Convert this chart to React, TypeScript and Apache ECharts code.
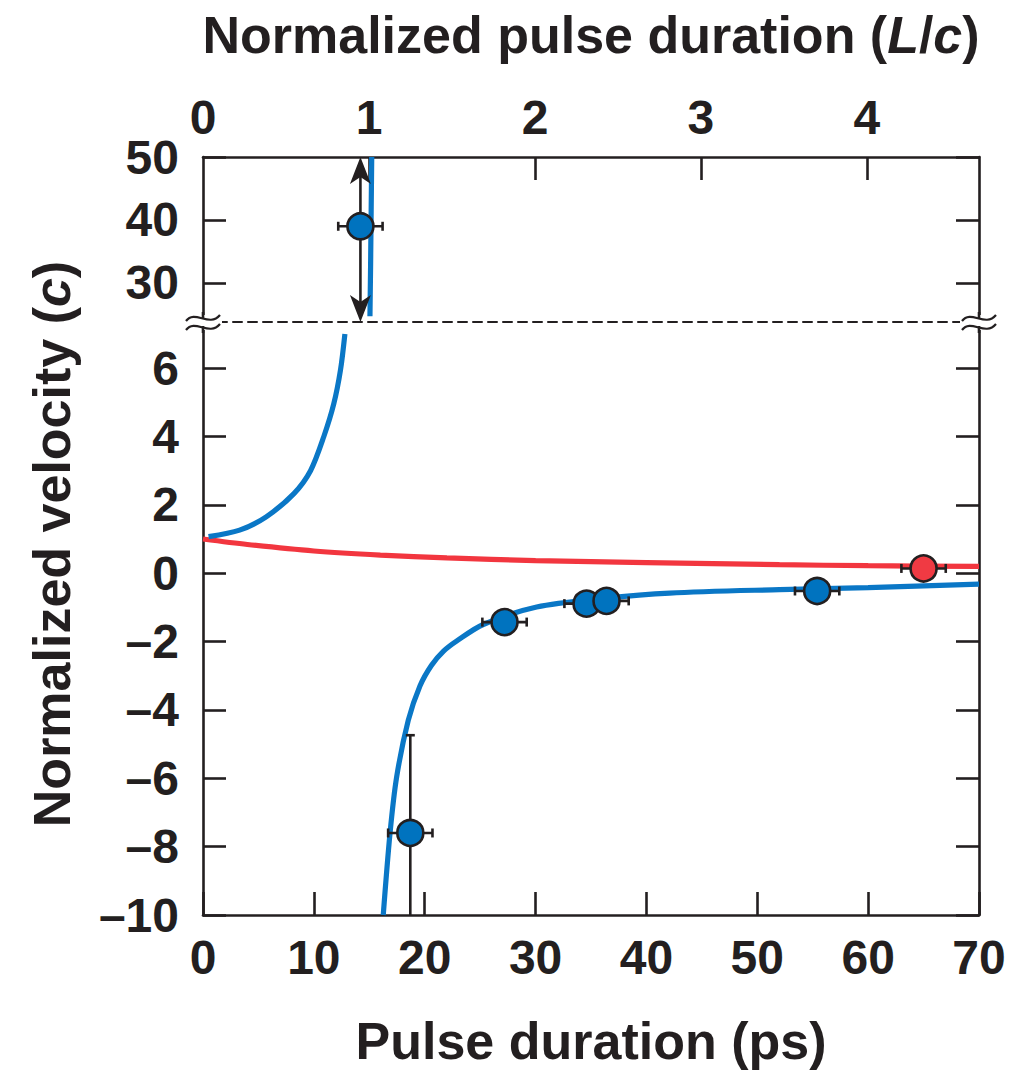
import React, { useEffect, useRef } from "react";
import * as echarts from "echarts";

// ---------- data ----------
const psTicks = [0, 10, 20, 30, 40, 50, 60, 70];
const lcTickLabels = [0, 1, 2, 3, 4];
const lcTickMarks = [1, 2, 3, 4];
const upperYTicks = [30, 40, 50];
const lowerYTicks = [-10, -8, -6, -4, -2, 0, 2, 4, 6];

// blue theory curve, branch below the pole (positive, lower panel)
const blueA_x = [0.5, 3.3, 5.7, 8.2, 9.7, 10.9, 11.8, 12.4, 12.8];
const blueA_y = [1.07, 1.26, 1.65, 2.33, 3.0, 4.0, 4.96, 5.94, 7.0];
// blue theory curve, near the pole (upper panel)
const blueB_x = [15.06, 15.12, 15.17, 15.22];
const blueB_y = [24.7, 33, 41.5, 50];
// blue theory curve, negative branch (lower panel)
const blueC_x = [16.26, 16.87, 17.47, 18.52, 19.57, 20.6, 21.7, 22.9, 25.28, 30.1, 36.1, 42.1, 52.0, 60.0, 70.0];
const blueC_y = [-10.0, -7.61, -5.96, -4.3, -3.3, -2.7, -2.28, -1.98, -1.5, -0.99, -0.74, -0.58, -0.48, -0.42, -0.32];
// red theory curve
const red_x = [0, 4, 10, 16, 22, 30, 40, 52, 60, 70];
const red_y = [1.0, 0.84, 0.65, 0.53, 0.45, 0.37, 0.31, 0.25, 0.22, 0.2];

// measured points (upper panel)
const upPt_x = [14.2];
const upPt_y = [39.0];
const upPt_xErr = [2.0];
const upPt_yLow = [23.8];
const upPt_yHigh = [50];
const upPt_arrow = [1];
// measured points (lower panel, blue)
const bluePt_x = [18.7, 27.2, 34.6, 36.4, 55.4];
const bluePt_y = [-7.6, -1.43, -0.89, -0.81, -0.52];
const bluePt_xErr = [2.0, 2.0, 2.0, 2.0, 2.0];
const bluePt_yLow = [-10.5, -1.43, -0.89, -0.81, -0.52];
const bluePt_yHigh = [-4.74, -1.43, -0.89, -0.81, -0.52];
// measured point (red)
const redPt_x = [65.0];
const redPt_y = [0.14];
const redPt_xErr = [2.0];

// ---------- styles ----------
const BLACK = "#231f20";
const BLUE_LINE = "#0a77c6";
const BLUE_FILL = "#0073bf";
const RED_LINE = "#f2363f";
const RED_FILL = "#f03a43";
const FONT = "Liberation Sans";

const GL = 203;
const GR = 979;
const GT = 157;
const GB = 322;
const GBOT = 915;

const zip = (xs: number[], ys: number[]) => xs.map((x, i) => [x, ys[i]]);

function errRender(params: any, api: any) {
  const x = api.value(0);
  const y = api.value(1);
  const xe = api.value(2);
  const yl = api.value(3);
  const yh = api.value(4);
  const arrow = api.value(5);
  const cs = params.coordSys;
  const st = { stroke: BLACK, lineWidth: 2.6 };
  const inside = (p: number[]) => p[1] >= cs.y - 0.5 && p[1] <= cs.y + cs.height + 0.5;
  const l = api.coord([x - xe, y]);
  const r = api.coord([x + xe, y]);
  const ch: any[] = [
    { type: "line", shape: { x1: l[0], y1: l[1], x2: r[0], y2: r[1] }, style: st },
    { type: "line", shape: { x1: l[0], y1: l[1] - 4.5, x2: l[0], y2: l[1] + 4.5 }, style: st },
    { type: "line", shape: { x1: r[0], y1: r[1] - 4.5, x2: r[0], y2: r[1] + 4.5 }, style: st },
  ];
  if (yl !== yh) {
    const lo = api.coord([x, yl]);
    const hi = api.coord([x, yh]);
    if (arrow) {
      ch.push({ type: "line", shape: { x1: hi[0], y1: hi[1] + 18, x2: lo[0], y2: lo[1] - 18 }, style: st });
      ch.push({
        type: "polygon",
        shape: { points: [[hi[0], hi[1]], [hi[0] - 10.5, hi[1] + 27], [hi[0], hi[1] + 20], [hi[0] + 10.5, hi[1] + 27]] },
        style: { fill: BLACK },
      });
      ch.push({
        type: "polygon",
        shape: { points: [[lo[0], lo[1]], [lo[0] - 10.5, lo[1] - 27], [lo[0], lo[1] - 20], [lo[0] + 10.5, lo[1] - 27]] },
        style: { fill: BLACK },
      });
    } else {
      ch.push({ type: "line", shape: { x1: lo[0], y1: lo[1], x2: hi[0], y2: hi[1] }, style: st });
      if (inside(hi)) ch.push({ type: "line", shape: { x1: hi[0] - 4.5, y1: hi[1], x2: hi[0] + 4.5, y2: hi[1] }, style: st });
      if (inside(lo)) ch.push({ type: "line", shape: { x1: lo[0] - 4.5, y1: lo[1], x2: lo[0] + 4.5, y2: lo[1] }, style: st });
    }
  }
  return { type: "group", children: ch };
}

const fmt = (v: number) => (v < 0 ? "\u2013" + Math.abs(v) : String(v));

const labelStyle = { fontFamily: FONT, fontWeight: "bold" as const, fontSize: 48, color: BLACK };
const lineStyle = { color: BLACK, width: 2.6 };
const tickStyle = { show: true, inside: true, length: 23, lineStyle: { color: BLACK, width: 2.6 } };

function wave(cx: number, cy: number) {
  return {
    type: "bezierCurve",
    z: 101,
    shape: { x1: cx - 17, y1: cy + 3, cpx1: cx - 8, cpy1: cy - 9, cpx2: cx + 6, cpy2: cy + 10, x2: cx + 17, y2: cy - 3 },
    style: { stroke: BLACK, lineWidth: 2.2, fill: null },
  };
}

const curveStyle = (color: string) => ({ color, width: 5.2, cap: "butt" });

export default function App() {
  const ref = useRef<HTMLDivElement>(null);
  useEffect(() => {
    if (!ref.current) return;
    const chart = echarts.init(ref.current, null, { renderer: "svg" });
    const option: any = {
      animation: false,
      backgroundColor: "#ffffff",
      textStyle: { fontFamily: FONT },
      grid: [
        { left: GL, right: 1014 - GR, top: GT, height: GB - GT },
        { left: GL, right: 1014 - GR, top: GB, height: GBOT - GB },
      ],
      xAxis: [
        {
          gridIndex: 0, type: "value", position: "bottom", min: 0, max: 70,
          axisLine: { show: true, lineStyle: { color: BLACK, width: 2, type: [9, 6] } },
          axisTick: { show: false }, axisLabel: { show: false }, splitLine: { show: false },
        },
        {
          gridIndex: 1, type: "value", position: "bottom", min: 0, max: 70, interval: 10,
          axisLine: { show: true, onZero: false, lineStyle },
          axisTick: tickStyle,
          axisLabel: { ...labelStyle, margin: 18, customValues: psTicks },
          splitLine: { show: false },
          name: "Pulse duration (ps)", nameLocation: "middle", nameGap: 100,
          nameTextStyle: { fontFamily: FONT, fontWeight: "bold", fontSize: 52, color: BLACK },
        },
        {
          gridIndex: 0, type: "value", position: "top", min: 0, max: 4.675,
          axisLine: { show: true, onZero: false, lineStyle },
          axisTick: { ...tickStyle, customValues: lcTickMarks },
          axisLabel: { ...labelStyle, margin: 16, customValues: lcTickLabels },
          splitLine: { show: false },
          name: "{a|Normalized pulse duration (}{b|L}{a|/}{b|c}{a|)}",
          nameLocation: "middle", nameGap: 96,
          nameTextStyle: {
            rich: {
              a: { fontFamily: FONT, fontWeight: "bold", fontSize: 52, color: BLACK },
              b: { fontFamily: FONT, fontWeight: "bold", fontStyle: "italic", fontSize: 52, color: BLACK },
            },
          },
        },
      ],
      yAxis: [
        {
          gridIndex: 0, type: "value", position: "left", min: 23.8, max: 50,
          axisLine: { show: true, onZero: false, lineStyle },
          axisTick: { ...tickStyle, customValues: upperYTicks },
          axisLabel: { ...labelStyle, margin: 24, customValues: upperYTicks, formatter: fmt },
          splitLine: { show: false },
        },
        {
          gridIndex: 1, type: "value", position: "left", min: -10, max: 7.35,
          axisLine: { show: true, onZero: false, lineStyle },
          axisTick: { ...tickStyle, customValues: lowerYTicks },
          axisLabel: { ...labelStyle, margin: 24, customValues: lowerYTicks, formatter: fmt },
          splitLine: { show: false },
        },
        {
          gridIndex: 0, type: "value", position: "right", min: 23.8, max: 50,
          axisLine: { show: true, onZero: false, lineStyle },
          axisTick: { ...tickStyle, customValues: upperYTicks },
          axisLabel: { show: false }, splitLine: { show: false },
        },
        {
          gridIndex: 1, type: "value", position: "right", min: -10, max: 7.35,
          axisLine: { show: true, onZero: false, lineStyle },
          axisTick: { ...tickStyle, customValues: lowerYTicks },
          axisLabel: { show: false }, splitLine: { show: false },
        },
      ],
      series: [
        {
          type: "line", xAxisIndex: 1, yAxisIndex: 1, data: zip(red_x, red_y), smooth: 0.3,
          showSymbol: false, lineStyle: curveStyle(RED_LINE), z: 2,
        },
        {
          type: "line", xAxisIndex: 1, yAxisIndex: 1, data: zip(blueA_x, blueA_y), smooth: 0.3,
          showSymbol: false, lineStyle: curveStyle(BLUE_LINE), z: 2,
        },
        {
          type: "line", xAxisIndex: 1, yAxisIndex: 1, data: zip(blueC_x, blueC_y), smooth: 0.3,
          showSymbol: false, lineStyle: curveStyle(BLUE_LINE), z: 2,
        },
        {
          type: "line", xAxisIndex: 0, yAxisIndex: 0, data: zip(blueB_x, blueB_y), smooth: false,
          showSymbol: false, lineStyle: curveStyle(BLUE_LINE), z: 2,
        },
        {
          type: "custom", xAxisIndex: 0, yAxisIndex: 0, renderItem: errRender, clip: true, z: 3,
          data: upPt_x.map((x, i) => [x, upPt_y[i], upPt_xErr[i], upPt_yLow[i], upPt_yHigh[i], upPt_arrow[i]]),
        },
        {
          type: "custom", xAxisIndex: 1, yAxisIndex: 1, renderItem: errRender, clip: true, z: 3,
          data: bluePt_x.map((x, i) => [x, bluePt_y[i], bluePt_xErr[i], bluePt_yLow[i], bluePt_yHigh[i], 0]),
        },
        {
          type: "custom", xAxisIndex: 1, yAxisIndex: 1, renderItem: errRender, clip: true, z: 3,
          data: redPt_x.map((x, i) => [x, redPt_y[i], redPt_xErr[i], redPt_y[i], redPt_y[i], 0]),
        },
        {
          type: "scatter", xAxisIndex: 0, yAxisIndex: 0, data: zip(upPt_x, upPt_y), symbolSize: 26, z: 4,
          itemStyle: { color: BLUE_FILL, borderColor: BLACK, borderWidth: 2.6, opacity: 1 },
        },
        {
          type: "scatter", xAxisIndex: 1, yAxisIndex: 1, data: zip(bluePt_x, bluePt_y), symbolSize: 26, z: 4,
          itemStyle: { color: BLUE_FILL, borderColor: BLACK, borderWidth: 2.6, opacity: 1 },
        },
        {
          type: "scatter", xAxisIndex: 1, yAxisIndex: 1, data: zip(redPt_x, redPt_y), symbolSize: 26, z: 4,
          itemStyle: { color: RED_FILL, borderColor: BLACK, borderWidth: 2.6, opacity: 1 },
        },
      ],
      graphic: [
        {
          type: "text", x: 52, y: 544, rotation: Math.PI / 2, z: 100,
          style: {
            text: "{a|Normalized velocity (}{b|c}{a|)}",
            align: "center", verticalAlign: "middle",
            rich: {
              a: { fontFamily: FONT, fontWeight: "bold", fontSize: 52, fill: BLACK },
              b: { fontFamily: FONT, fontWeight: "bold", fontStyle: "italic", fontSize: 52, fill: BLACK },
            },
          },
        },
        { type: "rect", z: 100, shape: { x: GL - 19, y: 315, width: 38, height: 15 }, style: { fill: "#ffffff" } },
        { type: "rect", z: 100, shape: { x: GR - 19, y: 315, width: 38, height: 15 }, style: { fill: "#ffffff" } },
        { type: "line", z: 100, shape: { x1: GL, y1: 312, x2: GL, y2: 319 }, style: { stroke: BLACK, lineWidth: 2.6 } },
        { type: "line", z: 100, shape: { x1: GL, y1: 326, x2: GL, y2: 333 }, style: { stroke: BLACK, lineWidth: 2.6 } },
        { type: "line", z: 100, shape: { x1: GR, y1: 312, x2: GR, y2: 319 }, style: { stroke: BLACK, lineWidth: 2.6 } },
        { type: "line", z: 100, shape: { x1: GR, y1: 326, x2: GR, y2: 333 }, style: { stroke: BLACK, lineWidth: 2.6 } },
        wave(GL, 318), wave(GL, 327), wave(GR, 318), wave(GR, 327),
      ],
    };
    chart.setOption(option);
    return () => chart.dispose();
  }, []);
  return (
    <div
      ref={ref}
      style={{ position: "fixed", left: 0, top: 0, width: 1014, height: 1076, background: "#fff" }}
    />
  );
}
